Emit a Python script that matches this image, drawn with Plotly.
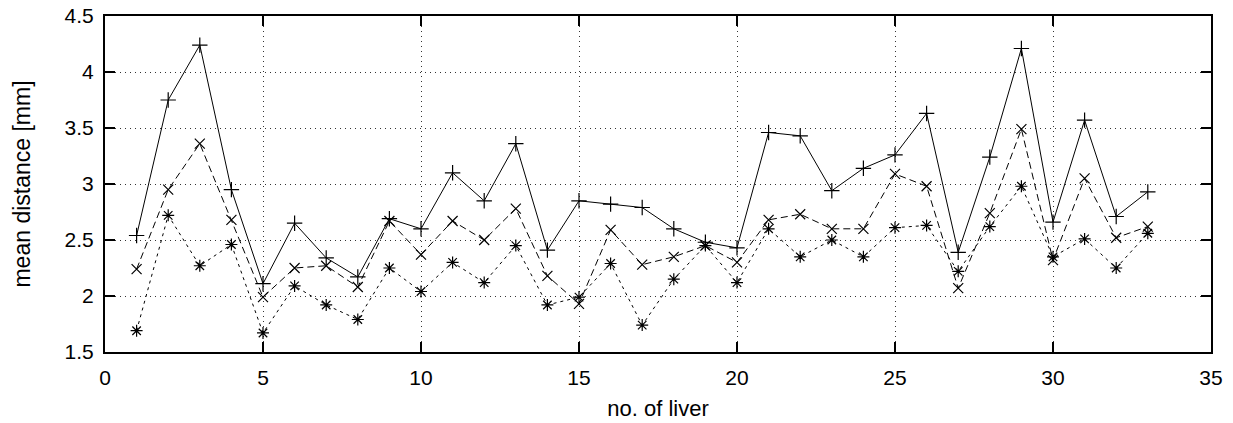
import plotly.graph_objects as go

livers = list(range(1, 34))
series_plus = [2.54, 3.75, 4.24, 2.95, 2.11, 2.65, 2.34, 2.17, 2.69, 2.60,
               3.10, 2.85, 3.36, 2.41, 2.85, 2.82, 2.79, 2.60, 2.48, 2.43,
               3.46, 3.43, 2.94, 3.14, 3.26, 3.63, 2.39, 3.24, 4.21, 2.66,
               3.57, 2.71, 2.93]
series_x = [2.24, 2.95, 3.36, 2.68, 1.99, 2.25, 2.27, 2.08, 2.67, 2.37,
            2.67, 2.50, 2.78, 2.18, 1.93, 2.59, 2.28, 2.35, 2.45, 2.30,
            2.68, 2.73, 2.60, 2.60, 3.09, 2.98, 2.07, 2.74, 3.49, 2.32,
            3.05, 2.52, 2.62]
series_star = [1.69, 2.72, 2.27, 2.46, 1.67, 2.09, 1.92, 1.79, 2.25, 2.04,
               2.30, 2.12, 2.45, 1.92, 1.99, 2.29, 1.74, 2.15, 2.45, 2.12,
               2.60, 2.35, 2.50, 2.35, 2.61, 2.63, 2.22, 2.62, 2.98, 2.35,
               2.51, 2.25, 2.56]

fig = go.Figure()
fig.add_trace(go.Scatter(
    x=livers, y=series_plus, mode="lines+markers",
    line=dict(color="black", width=1, dash="solid"),
    marker=dict(symbol="cross-thin", size=11, line=dict(color="black", width=1.2)),
    showlegend=False))
fig.add_trace(go.Scatter(
    x=livers, y=series_x, mode="lines+markers",
    line=dict(color="black", width=1, dash="7px,4px"),
    marker=dict(symbol="x-thin", size=10, line=dict(color="black", width=1.2)),
    showlegend=False))
fig.add_trace(go.Scatter(
    x=livers, y=series_star, mode="lines+markers",
    line=dict(color="black", width=1, dash="3px,4px"),
    marker=dict(symbol="asterisk", size=10, line=dict(color="black", width=1.2)),
    showlegend=False))

font = "Liberation Sans, Arial, sans-serif"
axis_common = dict(
    showline=True, linecolor="black", linewidth=2, mirror="allticks",
    ticks="inside", ticklen=10, tickwidth=1.5, tickcolor="black",
    showgrid=True, gridcolor="#333333", gridwidth=1, griddash="1px,4px",
    zeroline=False, tickfont=dict(family=font, size=21, color="black"),
    automargin=False,
)
fig.update_xaxes(range=[0, 35], dtick=5, tick0=0, ticklabelstandoff=6,
                 title=dict(text="no. of liver", font=dict(family=font, size=22, color="black"), standoff=12),
                 **axis_common)
fig.update_yaxes(range=[1.5, 4.5], dtick=0.5, tick0=1.5, ticklabelstandoff=5,
                 title=dict(text="mean distance [mm]", font=dict(family=font, size=23, color="black"), standoff=28),
                 **axis_common)
fig.update_layout(
    width=1233, height=423,
    margin=dict(l=105, r=22, t=16, b=71),
    plot_bgcolor="white", paper_bgcolor="white",
)
fig.write_html("out.html")
